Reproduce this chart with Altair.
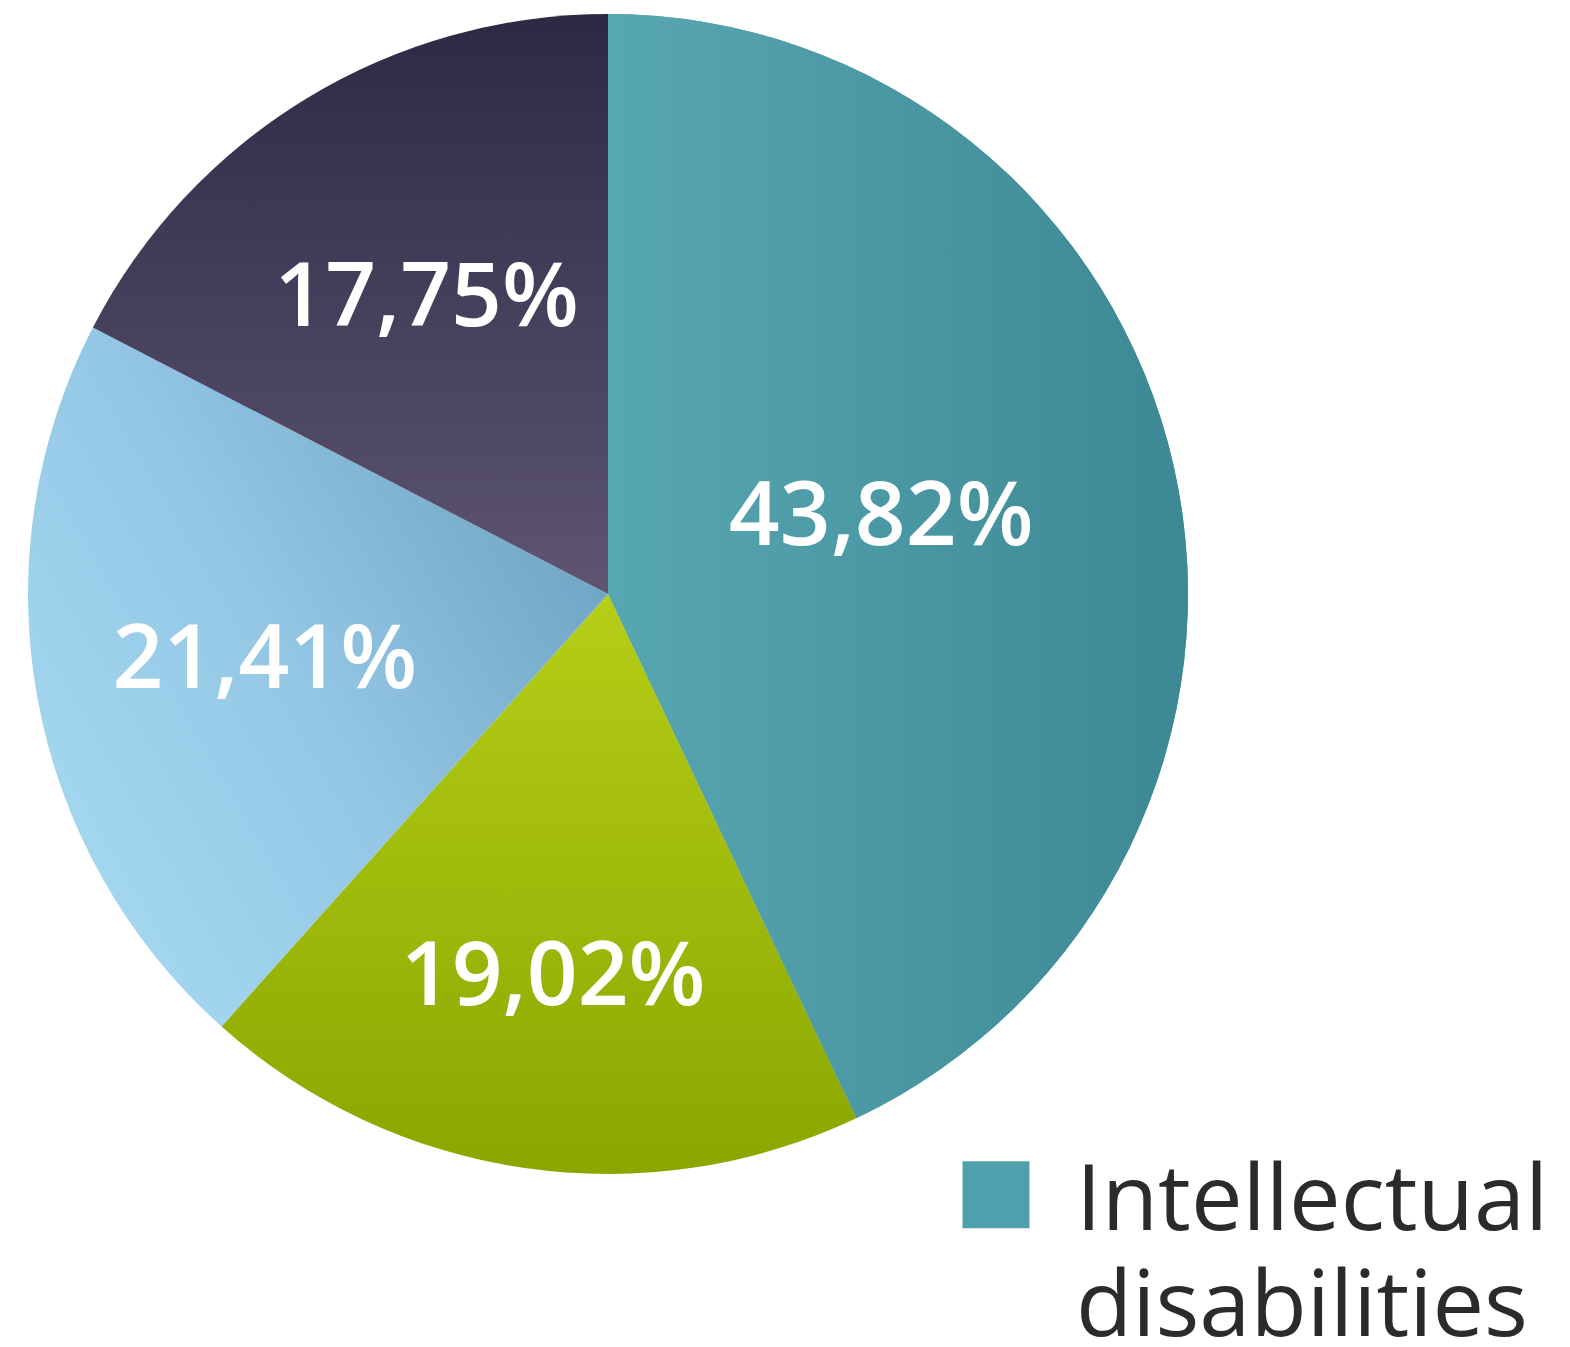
import altair as alt
import pandas as pd

categories = ["Intellectual disabilities", "Category 2", "Category 3", "Category 4"]
values = [43.82, 19.02, 21.41, 17.75]
labels = ["43,82%", "19,02%", "21,41%", "17,75%"]
order = [0, 1, 2, 3]

df = pd.DataFrame({"category": categories, "value": values, "label": labels, "order": order})

# gradient fills per slice
gradients = {
    "Intellectual disabilities": alt.LinearGradient(
        gradient="linear",
        stops=[alt.GradientStop(color="#57a7b2", offset=0), alt.GradientStop(color="#3c8894", offset=1)],
        x1=0, y1=0, x2=1, y2=0),
    "Category 2": alt.LinearGradient(
        gradient="linear",
        stops=[alt.GradientStop(color="#b6ce18", offset=0), alt.GradientStop(color="#8aa600", offset=1)],
        x1=0, y1=0, x2=0, y2=1),
    "Category 3": alt.LinearGradient(
        gradient="linear",
        stops=[alt.GradientStop(color="#a9dbf3", offset=0), alt.GradientStop(color="#93c7e4", offset=0.5),
               alt.GradientStop(color="#6a9fc0", offset=1)],
        x1=0, y1=0.9, x2=1, y2=0.2),
    "Category 4": alt.LinearGradient(
        gradient="linear",
        stops=[alt.GradientStop(color="#2d2944", offset=0), alt.GradientStop(color="#5d5572", offset=1)],
        x1=0, y1=0, x2=0, y2=1),
}

# label radius (distance of each label from the centre)
label_radius = {categories[0]: 280, categories[1]: 384, categories[2]: 349, categories[3]: 349}
label_dy = {categories[0]: -15, categories[1]: 4, categories[2]: 4, categories[3]: 3}

base = alt.Chart(df).transform_joinaggregate(
    total="sum(value)"
).transform_window(
    cum="sum(value)", sort=[alt.SortField("order")], frame=[None, 0]
).transform_calculate(
    start="(datum.cum - datum.value) / datum.total * 100",
    end="datum.cum / datum.total * 100",
    mid="(datum.cum - datum.value / 2) / datum.total * 100",
)

theta_scale = alt.Scale(domain=[0, 100])
R = 580

legend_layer = base.transform_filter(
    alt.datum.category == categories[0]
).mark_arc(outerRadius=R).encode(
    theta=alt.Theta("start:Q", scale=theta_scale, stack=None),
    theta2="end:Q",
    color=alt.Color(
        "category:N",
        scale=alt.Scale(domain=[categories[0]], range=["#4fa0ad"]),
        legend=alt.Legend(
            title=None, orient="none", legendX=942, legendY=1176,
            symbolType="M-1,-2.05H1V-0.05H-1Z", symbolSize=4489, symbolStrokeWidth=0,
            labelFont="Open Sans", labelFontSize=92, labelColor="#2b2b2b",
            labelOffset=34, labelBaseline="alphabetic", labelLimit=0,
            labelExpr="split(datum.label, ' ')", padding=0,
        ),
    ),
)

layers = [legend_layer]
for cat in categories:
    layers.append(
        base.transform_filter(alt.datum.category == cat).mark_arc(
            outerRadius=R, fill=gradients[cat]
        ).encode(
            theta=alt.Theta("start:Q", scale=theta_scale, stack=None),
            theta2="end:Q",
        )
    )

text_style = dict(font="Open Sans", fontWeight=600, fontSize=89, color="white")

for cat in categories:
    layers.append(
        base.transform_filter(alt.datum.category == cat).mark_text(
            radius=label_radius[cat], dy=label_dy[cat], **text_style
        ).encode(theta=alt.Theta("mid:Q", scale=theta_scale, stack=None), text="label:N")
    )

chart = alt.layer(*layers).properties(
    width=1200, height=1172, padding=0
).configure(
    style={"guide-label": {"lineHeight": 106}}
).configure_view(stroke=None)

chart.save("out.html", embed_options={"renderer": "svg", "actions": False})
